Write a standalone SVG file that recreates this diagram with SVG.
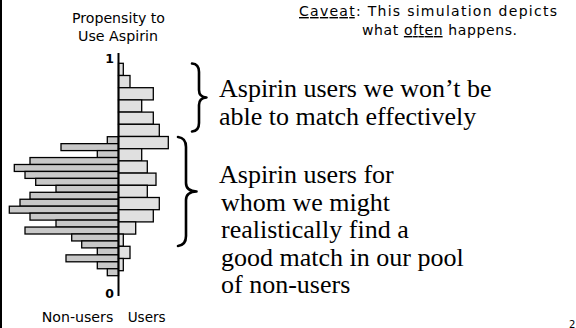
<svg xmlns="http://www.w3.org/2000/svg" width="576" height="328" viewBox="0 0 576 328">
  <style>
    .sans { font-family: "DejaVu Sans", "Liberation Sans", sans-serif; fill: #000; }
    .serif { font-family: "Liberation Serif", "Times New Roman", serif; fill: #000; font-size: 26px; }
    .num { font-family: "DejaVu Sans", "Liberation Sans", sans-serif; font-weight: bold; font-size: 12.5px; fill: #000; }
    .user { fill: #e0e0e0; stroke: #000; stroke-width: 1.3; }
    .nonuser { fill: #c8c8c8; stroke: #000; stroke-width: 1.3; }
    .brace { fill: none; stroke: #000; stroke-width: 2.6; stroke-linecap: round; stroke-linejoin: round; }
  </style>

  <rect width="576" height="328" fill="#fff"/>
  <!-- page edge -->
  <line x1="1" y1="0" x2="1" y2="328" stroke="#000" stroke-width="2"/>

  <!-- axis title -->
  <g id="axis-title" class="sans" font-size="14" text-anchor="middle">
    <text x="118.5" y="23" textLength="93" lengthAdjust="spacingAndGlyphs">Propensity to</text>
    <text x="118" y="41" textLength="80" lengthAdjust="spacingAndGlyphs">Use Aspirin</text>
  </g>

  <!-- non-user histogram (left of axis) -->
  <g id="nonusers">
    <rect class="nonuser" x="107.3" y="136.7" width="11.2" height="6.95"/>
    <rect class="nonuser" x="61" y="143.65" width="57.5" height="6.95"/>
    <rect class="nonuser" x="97.3" y="150.6" width="21.2" height="6.95"/>
    <rect class="nonuser" x="30" y="157.55" width="88.5" height="6.95"/>
    <rect class="nonuser" x="14.3" y="164.5" width="104.2" height="6.95"/>
    <rect class="nonuser" x="25" y="171.45" width="93.5" height="6.95"/>
    <rect class="nonuser" x="35.7" y="178.4" width="82.8" height="6.95"/>
    <rect class="nonuser" x="56" y="185.35" width="62.5" height="6.95"/>
    <rect class="nonuser" x="30" y="192.3" width="88.5" height="6.95"/>
    <rect class="nonuser" x="20" y="199.25" width="98.5" height="6.95"/>
    <rect class="nonuser" x="9.3" y="206.2" width="109.2" height="6.95"/>
    <rect class="nonuser" x="30" y="213.15" width="88.5" height="6.95"/>
    <rect class="nonuser" x="56" y="220.1" width="62.5" height="6.95"/>
    <rect class="nonuser" x="25" y="227.05" width="93.5" height="6.95"/>
    <rect class="nonuser" x="71.7" y="234" width="46.8" height="6.95"/>
    <rect class="nonuser" x="81.7" y="240.95" width="36.8" height="6.95"/>
    <rect class="nonuser" x="97.3" y="247.9" width="21.2" height="6.95"/>
    <rect class="nonuser" x="66" y="254.85" width="52.5" height="6.95"/>
    <rect class="nonuser" x="97.3" y="261.8" width="21.2" height="6.95"/>
    <rect class="nonuser" x="107.3" y="268.75" width="11.2" height="6.95"/>
  </g>

  <!-- user histogram (right of axis) -->
  <g id="users">
    <rect class="user" x="118.5" y="63.3" width="4.8" height="12.2"/>
    <rect class="user" x="118.5" y="75.5" width="11.5" height="12.2"/>
    <rect class="user" x="118.5" y="87.7" width="34.8" height="12.2"/>
    <rect class="user" x="118.5" y="99.9" width="23.2" height="12.2"/>
    <rect class="user" x="118.5" y="112.1" width="34.8" height="12.2"/>
    <rect class="user" x="118.5" y="124.3" width="40.8" height="12.2"/>
    <rect class="user" x="118.5" y="136.5" width="49.8" height="12.2"/>
    <rect class="user" x="118.5" y="148.7" width="23.2" height="12.2"/>
    <rect class="user" x="118.5" y="160.9" width="28.8" height="12.2"/>
    <rect class="user" x="118.5" y="173.1" width="37.5" height="12.2"/>
    <rect class="user" x="118.5" y="185.3" width="28.8" height="12.2"/>
    <rect class="user" x="118.5" y="197.5" width="40.8" height="12.2"/>
    <rect class="user" x="118.5" y="209.7" width="34.8" height="12.2"/>
    <rect class="user" x="118.5" y="221.9" width="17.2" height="12.2"/>
    <rect class="user" x="118.5" y="234.1" width="4.8" height="12.2"/>
    <rect class="user" x="118.5" y="246.3" width="11.5" height="12.2"/>
    <rect class="user" x="118.5" y="258.5" width="4.8" height="12.2"/>
  </g>

  <!-- vertical propensity axis -->
  <g id="axis">
    <line x1="118.5" y1="53" x2="118.5" y2="296" stroke="#000" stroke-width="2"/>
    <text class="num" x="114" y="63" text-anchor="end">1</text>
    <text class="num" x="114" y="298" text-anchor="end">0</text>
  </g>

  <!-- group labels under the axis -->
  <g id="group-labels" class="sans" font-size="14">
    <text x="41.7" y="322" textLength="71.6" lengthAdjust="spacingAndGlyphs">Non-users</text>
    <text x="127.7" y="322" textLength="38" lengthAdjust="spacingAndGlyphs">Users</text>
  </g>

  <!-- caveat note -->
  <g id="caveat" class="sans" font-size="14">
    <text x="299" y="16" textLength="258" lengthAdjust="spacing"><tspan text-decoration="underline">Caveat</tspan>: This simulation depicts</text>
    <text x="362" y="35" textLength="155" lengthAdjust="spacing">what <tspan text-decoration="underline">often</tspan> happens.</text>
  </g>

  <!-- braces -->
  <g id="connectors">
    <path class="brace" d="M192,63.5 Q199,64 199,72 L199,90 Q199,97 206.5,97.5 Q199,98 199,105 L199,123 Q199,131 192,131.5"/>
    <path class="brace" d="M178,137 Q186,138 186,147 L186,183 Q186,191 196.5,191.5 Q186,192 186,200 L186,236 Q186,245 178,246"/>
  </g>

  <!-- unmatched users annotation -->
  <g id="note-unmatched" class="serif">
    <text x="219" y="97">Aspirin users we won’t be</text>
    <text x="219" y="125">able to match effectively</text>
  </g>

  <!-- matchable users annotation -->
  <g id="note-matchable" class="serif">
    <text x="219" y="183">Aspirin users for</text>
    <text x="221" y="210.5">whom we might</text>
    <text x="221" y="238">realistically find a</text>
    <text x="221" y="265.5">good match in our pool</text>
    <text x="221" y="293">of non-users</text>
  </g>

  <!-- slide number -->
  <text class="sans" x="569" y="327.5" font-size="10">2</text>
</svg>
